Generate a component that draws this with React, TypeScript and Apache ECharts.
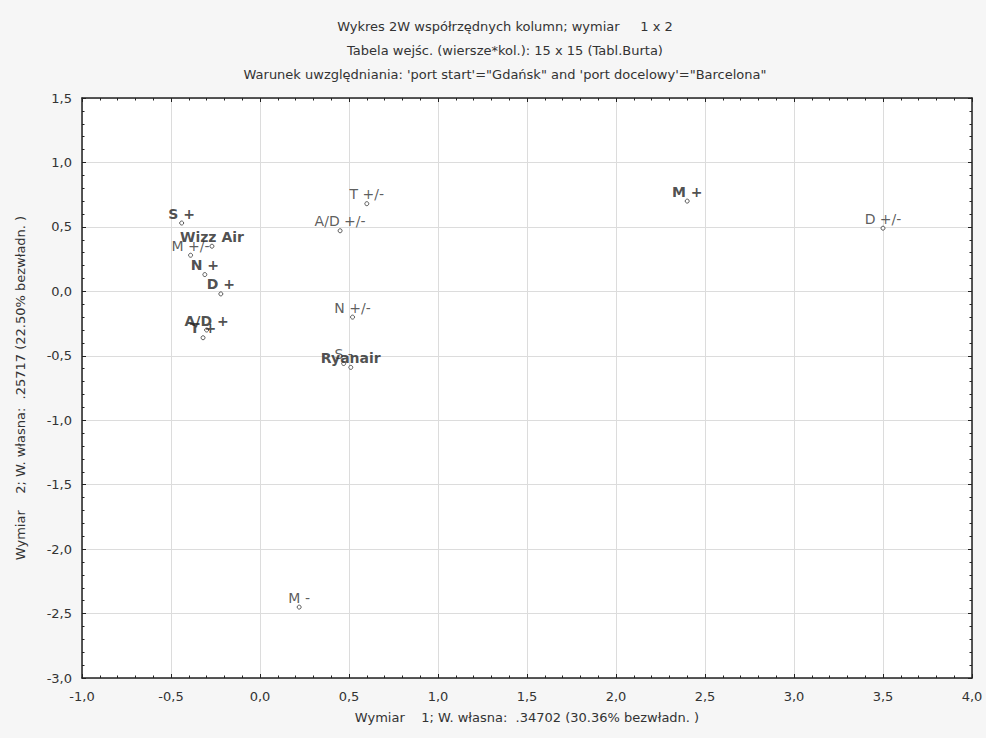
import React, { useEffect, useRef } from "react";
import * as echarts from "echarts";

const titleLines = [
  "Wykres 2W współrzędnych kolumn; wymiar     1 x 2",
  "Tabela wejśc. (wiersze*kol.): 15 x 15 (Tabl.Burta)",
  "Warunek uwzględniania: 'port start'=\"Gdańsk\" and 'port docelowy'=\"Barcelona\"",
];
const xAxisName = "Wymiar    1; W. własna:  .34702 (30.36% bezwładn. )";
const yAxisName = "Wymiar    2; W. własna:  .25717 (22.50% bezwładn. )";

const pointLabels = [
  "S +", "M +/-", "Wizz Air", "N +", "D +", "A/D +", "T +",
  "A/D +/-", "T +/-", "N +/-", "S -", "Ryanair", "M +", "D +/-", "M -",
];
const dim1 = [-0.44, -0.39, -0.27, -0.31, -0.22, -0.3, -0.32, 0.45, 0.6, 0.52, 0.47, 0.51, 2.4, 3.5, 0.22];
const dim2 = [0.53, 0.28, 0.35, 0.13, -0.02, -0.3, -0.36, 0.47, 0.68, -0.2, -0.56, -0.59, 0.7, 0.49, -2.45];
const boldLabels = ["S +", "Wizz Air", "N +", "D +", "A/D +", "T +", "Ryanair", "M +"];

const FONT = "DejaVu Sans";
const fmt = (v: number) => v.toFixed(1).replace(".", ",");

export default function App() {
  const ref = useRef<HTMLDivElement>(null);
  useEffect(() => {
    if (!ref.current) return;
    const chart = echarts.init(ref.current, undefined, { renderer: "svg" });
    const data = pointLabels.map((name, i) => ({
      name,
      value: [dim1[i], dim2[i]],
      label: {
        fontWeight: boldLabels.includes(name) ? "bold" : "normal",
        color: boldLabels.includes(name) ? "#222" : "#333",
      },
    }));
    const common = {
      type: "value" as const,
      axisLine: { show: true, onZero: false, lineStyle: { color: "#222", width: 1.5 } },
      axisTick: { show: true, inside: true, length: 4, lineStyle: { color: "#222" } },
      minorTick: { show: true, splitNumber: 5, length: 2.5, lineStyle: { color: "#222" } },
    };
    chart.setOption({
      animation: false,
      backgroundColor: "#f6f6f6",
      grid: {
        left: 82, top: 98, width: 890, height: 580,
        show: true, backgroundColor: "#ffffff", borderWidth: 0,
      },
      graphic: titleLines.map((t, i) => ({
        type: "text",
        x: 505,
        y: 26 + i * 24,
        style: {
          text: t,
          textAlign: "center",
          textVerticalAlign: "middle",
          font: `13px "${FONT}"`,
          fill: "#333",
        },
      })),
      xAxis: [
        {
          ...common,
          min: -1, max: 4, interval: 0.5, position: "bottom",
          name: xAxisName, nameLocation: "middle", nameGap: 33,
          nameTextStyle: { fontFamily: FONT, fontSize: 13, color: "#333" },
          axisLabel: { formatter: fmt, fontFamily: FONT, fontSize: 13, color: "#333", margin: 12 },
          splitLine: { show: true, lineStyle: { color: "#dcdcdc", width: 1 } },
        },
        {
          ...common,
          min: -1, max: 4, interval: 0.5, position: "top",
          axisLabel: { show: false },
          splitLine: { show: false },
        },
      ],
      yAxis: [
        {
          ...common,
          min: -3, max: 1.5, interval: 0.5, position: "left",
          name: yAxisName, nameLocation: "middle", nameGap: 55,
          nameTextStyle: { fontFamily: FONT, fontSize: 13, color: "#333" },
          axisLabel: { formatter: fmt, fontFamily: FONT, fontSize: 13, color: "#333", margin: 10 },
          splitLine: { show: true, lineStyle: { color: "#dcdcdc", width: 1 } },
        },
        {
          ...common,
          min: -3, max: 1.5, interval: 0.5, position: "right",
          axisLabel: { show: false },
          splitLine: { show: false },
        },
      ],
      series: [
        {
          type: "scatter",
          xAxisIndex: 0,
          yAxisIndex: 0,
          symbol: "circle",
          symbolSize: 4,
          itemStyle: { color: "#ffffff", borderColor: "#333", borderWidth: 1 },
          label: {
            show: true,
            position: "top",
            distance: 0,
            formatter: "{b}",
            fontFamily: FONT,
            fontSize: 14,
          },
          emphasis: { disabled: true },
          data,
        },
      ],
    });
    return () => chart.dispose();
  }, []);
  return (
    <div
      ref={ref}
      style={{ position: "absolute", left: 0, top: 0, width: 986, height: 738 }}
    />
  );
}
